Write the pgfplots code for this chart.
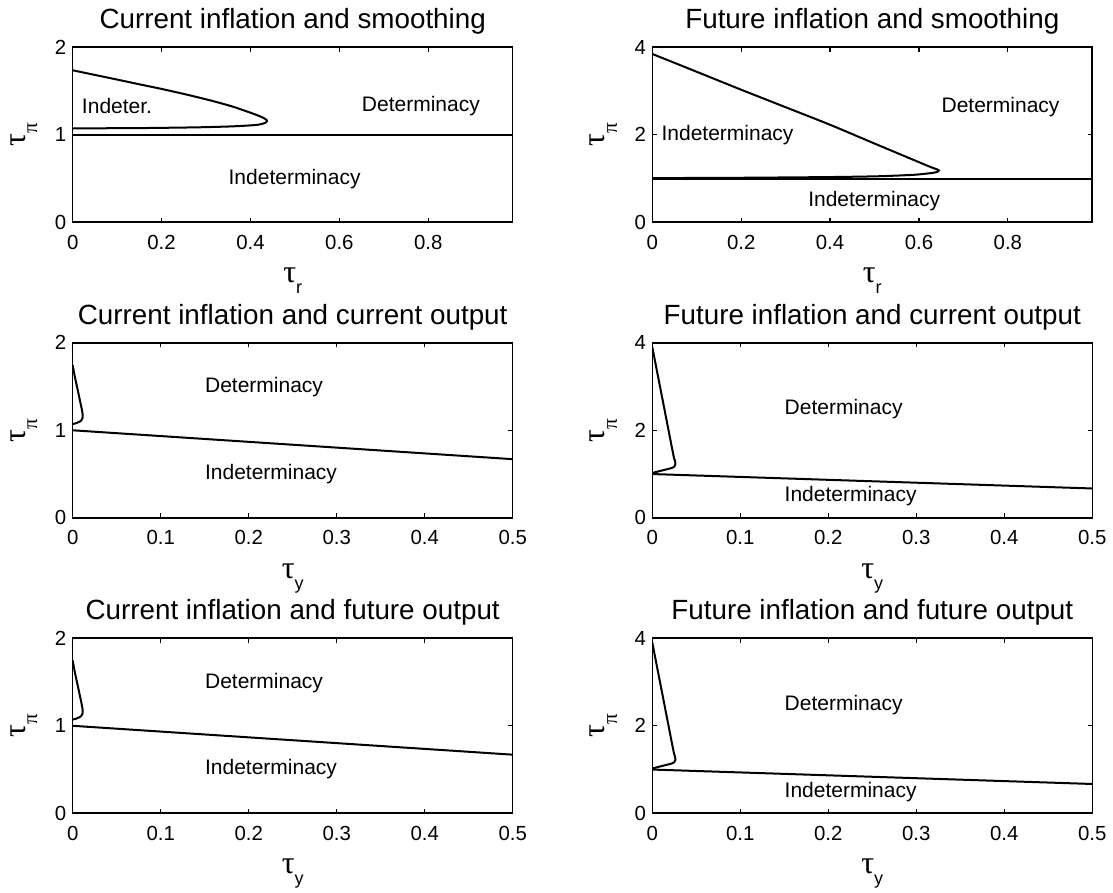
\documentclass[border=0pt]{standalone}
\usepackage{pgfplots}
\pgfplotsset{compat=1.18}
\usepackage{fontspec}
\setmainfont{Liberation Sans}
\newfontfamily\greekfont{Liberation Serif}

% tau with a lowered subscript, as in the axis labels
\newcommand{\taulabel}[3][5.5pt]{{\fontsize{16}{16}\selectfont\greekfont τ}\raisebox{-#1}{\fontsize{#2}{#2}\selectfont #3}}

\tikzset{regionlabel/.style={anchor=west, inner sep=0pt, text height=0.72em, text depth=0.2em,
    font=\fontsize{10.5}{11}\selectfont}}

\pgfplotsset{
  panel/.style={
    anchor=south west,
    width=220pt, height=87.5pt, scale only axis,
    axis line style={line width=0.8pt},
    every tick/.style={black, line width=0.6pt},
    tick align=inside, major tick length=2.2pt,
    tick label style={font=\fontsize{10.2}{11}\selectfont},
    /pgf/number format/assume math mode=true,
    xticklabel style={anchor=base, inner sep=0pt, yshift=-13.6pt},
    yticklabel style={anchor=east, inner sep=0pt, xshift=-3pt},
    title style={font=\fontsize{13.9}{14}\selectfont, at={(0.5,1)}, anchor=base, inner sep=0pt, yshift=3.3pt},
    xlabel style={at={(axis description cs:0.5,-0.345)}, anchor=base, inner sep=0pt},
    ylabel style={at={(axis description cs:-0.108,0.5)}, anchor=base, inner sep=0pt},
    xlabel={\taulabel{9}{y}}, ylabel={\taulabel[6pt]{10.5}{\greekfont π}},
    xmin=0, xmax=0.5, xtick={0,0.1,0.2,0.3,0.4,0.5},
    ymin=0,
    cycle list={{black, mark=none}},
    every axis plot/.append style={black, mark=none, line width=1pt},
  },
  smoothing/.style={xmin=0, xmax=0.99, xtick={0,0.2,0.4,0.6,0.8}, xlabel={\taulabel{9}{r}}},
  lowscale/.style={ymax=2, ytick={0,1,2}},
  highscale/.style={ymax=4, ytick={0,2,4}},
}

\begin{document}
\begin{tikzpicture}[x=1pt,y=1pt]
\path[use as bounding box] (0,0) rectangle (556.5,446.5);

% ---------- row 1: interest-rate smoothing ----------
\begin{axis}[panel, smoothing, lowscale, at={(36.35pt,335.35pt)},
  title={Current inflation and smoothing}]
\addplot[smooth, tension=0.4] coordinates {
  (0,1.737) (0.05,1.684) (0.101,1.630) (0.15,1.577) (0.201,1.523) (0.26,1.455)
  (0.318,1.382) (0.36,1.322) (0.398,1.256) (0.418,1.218) (0.430,1.191)
  (0.437,1.164) (0.434,1.138) (0.414,1.113) (0.358,1.096) (0.278,1.085)
  (0.157,1.077) (0,1.073)};
\addplot coordinates {(0,1) (0.99,1)};
\node[regionlabel] at (axis cs:0.02,1.30) {Indeter.};
\node[regionlabel] at (axis cs:0.65,1.32) {Determinacy};
\node[regionlabel] at (axis cs:0.35,0.49) {Indeterminacy};
\end{axis}

\begin{axis}[panel, smoothing, highscale, at={(326.15pt,335.35pt)},
  title={Future inflation and smoothing}]
\addplot[smooth, tension=0.4] coordinates {
  (0,3.847) (0.1,3.44) (0.2,3.03) (0.3,2.63) (0.4,2.229) (0.5,1.80)
  (0.6,1.374) (0.627,1.26) (0.640,1.212) (0.645,1.183) (0.641,1.152)
  (0.630,1.128) (0.588,1.085) (0.508,1.052) (0.4,1.034) (0.191,1.017) (0,1.010)};
\addplot coordinates {(0,1) (0.99,1)};
\node[regionlabel] at (axis cs:0.02,1.98) {Indeterminacy};
\node[regionlabel] at (axis cs:0.65,2.62) {Determinacy};
\node[regionlabel] at (axis cs:0.35,0.48) {Indeterminacy};
\end{axis}

% ---------- row 2: current output ----------
\begin{axis}[panel, lowscale, at={(36.35pt,187.6pt)},
  title={Current inflation and current output}]
\addplot[smooth, tension=0.3] coordinates {
  (0,1.746) (0.0024,1.613) (0.0057,1.461) (0.0089,1.309) (0.0105,1.233)
  (0.0114,1.175) (0.0110,1.135) (0.0088,1.104) (0.0035,1.080) (0,1.072)};
\addplot coordinates {(0,1) (0.5,0.67)};
\node[regionlabel] at (axis cs:0.15,1.49) {Determinacy};
\node[regionlabel] at (axis cs:0.15,0.50) {Indeterminacy};
\end{axis}

\begin{axis}[panel, highscale, at={(326.15pt,187.6pt)},
  title={Future inflation and current output}]
\addplot[smooth, tension=0.3] coordinates {
  (0,3.90) (0.0121,2.655) (0.0242,1.41) (0.0259,1.30) (0.0261,1.22)
  (0.0250,1.168) (0.0215,1.135) (0.0091,1.072) (0.0015,1.032) (0,1.025)};
\addplot coordinates {(0,1) (0.5,0.67)};
\node[regionlabel] at (axis cs:0.15,2.47) {Determinacy};
\node[regionlabel] at (axis cs:0.15,0.49) {Indeterminacy};
\end{axis}

% ---------- row 3: future output ----------
\begin{axis}[panel, lowscale, at={(36.35pt,39.85pt)},
  title={Current inflation and future output}]
\addplot[smooth, tension=0.3] coordinates {
  (0,1.746) (0.0024,1.613) (0.0057,1.461) (0.0089,1.309) (0.0105,1.233)
  (0.0114,1.175) (0.0110,1.135) (0.0088,1.104) (0.0035,1.080) (0,1.072)};
\addplot coordinates {(0,1) (0.5,0.67)};
\node[regionlabel] at (axis cs:0.15,1.49) {Determinacy};
\node[regionlabel] at (axis cs:0.15,0.50) {Indeterminacy};
\end{axis}

\begin{axis}[panel, highscale, at={(326.15pt,39.85pt)},
  title={Future inflation and future output}]
\addplot[smooth, tension=0.3] coordinates {
  (0,3.90) (0.0121,2.655) (0.0242,1.41) (0.0259,1.30) (0.0261,1.22)
  (0.0250,1.168) (0.0215,1.135) (0.0091,1.072) (0.0015,1.032) (0,1.025)};
\addplot coordinates {(0,1) (0.5,0.67)};
\node[regionlabel] at (axis cs:0.15,2.47) {Determinacy};
\node[regionlabel] at (axis cs:0.15,0.49) {Indeterminacy};
\end{axis}
\end{tikzpicture}
\end{document}
